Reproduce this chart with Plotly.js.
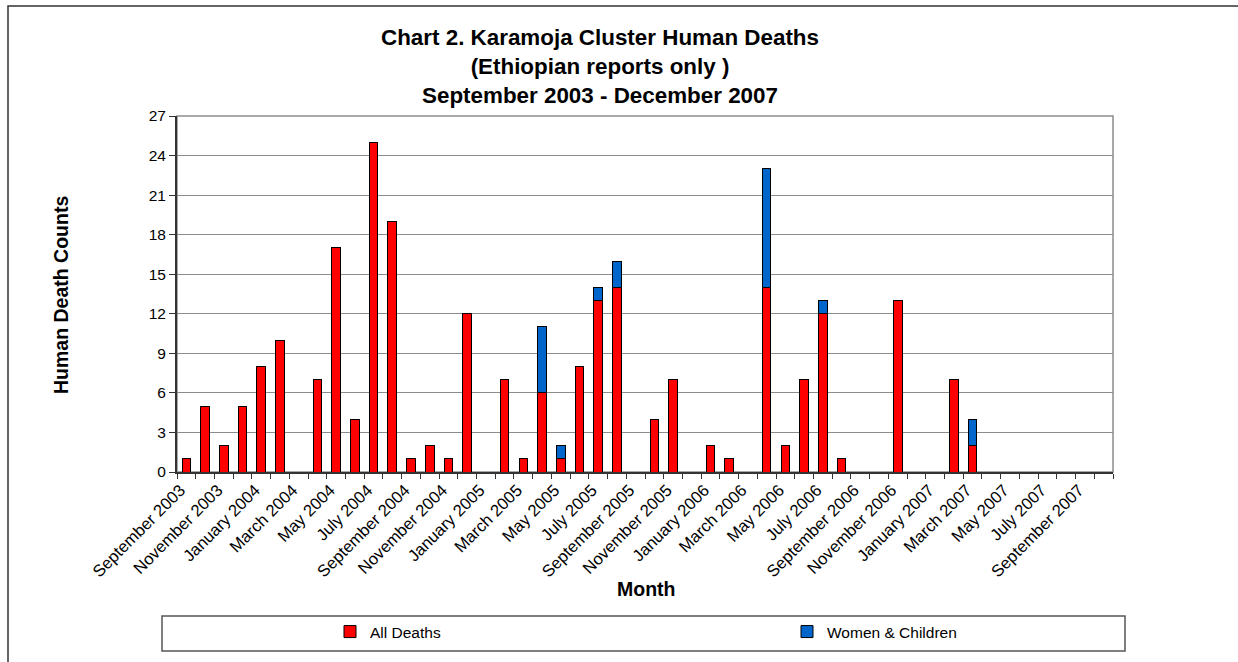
<!DOCTYPE html>
<html>
<head>
<meta charset="utf-8">
<script src="https://cdn.plot.ly/plotly-3.0.1.min.js"></script>
<style>
html,body{margin:0;padding:0;background:#fff;}
#chart{width:1238px;height:662px;}
</style>
</head>
<body>
<div id="chart"></div>
<script>
// ---- Data ----
const months = [
  "September 2003","October 2003","November 2003","December 2003",
  "January 2004","February 2004","March 2004","April 2004","May 2004","June 2004",
  "July 2004","August 2004","September 2004","October 2004","November 2004","December 2004",
  "January 2005","February 2005","March 2005","April 2005","May 2005","June 2005",
  "July 2005","August 2005","September 2005","October 2005","November 2005","December 2005",
  "January 2006","February 2006","March 2006","April 2006","May 2006","June 2006",
  "July 2006","August 2006","September 2006","October 2006","November 2006","December 2006",
  "January 2007","February 2007","March 2007","April 2007","May 2007","June 2007",
  "July 2007","August 2007","September 2007","October 2007"
];
const allDeaths = [
  1,5,2,5,
  8,10,null,7,17,4,
  25,19,1,2,1,12,
  null,7,1,6,1,8,
  13,14,null,4,7,null,
  2,1,null,14,2,7,
  12,1,null,null,13,null,
  null,7,2,null,null,null,
  null,null,null,null
];
const womenChildren = [
  null,null,null,null,
  null,null,null,null,null,null,
  null,null,null,null,null,null,
  null,null,null,5,1,null,
  1,2,null,null,null,null,
  null,null,null,9,null,null,
  1,null,null,null,null,null,
  null,null,2,null,null,null,
  null,null,null,null
];
const tickLabels = ["September 2003","November 2003","January 2004","March 2004","May 2004",
  "July 2004","September 2004","November 2004","January 2005","March 2005","May 2005",
  "July 2005","September 2005","November 2005","January 2006","March 2006","May 2006",
  "July 2006","September 2006","November 2006","January 2007","March 2007","May 2007",
  "July 2007","September 2007"];

// ---- Layout geometry (pixels) ----
const W = 1238, H = 662;
const M = {l: 177, r: 125, t: 116, b: 190};
const PW = W - M.l - M.r, PH = H - M.t - M.b;
const px = x => (x - M.l) / PW;
const py = y => (H - M.b - y) / PH;

const ticktext = months.map(m => tickLabels.includes(m) ? m : "");

const font = "Arial, 'Liberation Sans', sans-serif";

const traces = [
  {type: "bar", name: "All Deaths", x: months, y: allDeaths,
   marker: {color: "#FF0000", line: {color: "#000000", width: 1}}},
  {type: "bar", name: "Women & Children", x: months, y: womenChildren,
   marker: {color: "#0066CC", line: {color: "#000000", width: 1}}}
];

const layout = {
  width: W, height: H,
  margin: M,
  paper_bgcolor: "#ffffff", plot_bgcolor: "#ffffff",
  font: {family: font, color: "#000"},
  barmode: "stack", bargap: 0.54,
  title: {
    text: "Chart 2. Karamoja Cluster Human Deaths<br>(Ethiopian reports only )<br>September 2003 - December 2007",
    font: {family: font, size: 22.4, color: "#000", weight: "bold"},
    xref: "container", x: 600 / W, xanchor: "center",
    yref: "container", y: 1 - 45 / H, yanchor: "top"
  },
  xaxis: {
    type: "category",
    tickmode: "array", tickvals: months, ticktext: ticktext,
    tickangle: -45, tickfont: {size: 16.6, family: font, color: "#000"},
    ticklabelshift: -6,
    ticks: "outside", ticklen: 5, tickcolor: "#333", tickson: "boundaries",
    showline: true, linecolor: "#333", linewidth: 2,
    showgrid: false, zeroline: false,
    range: [-0.5, months.length - 0.5], fixedrange: true
  },
  yaxis: {
    range: [0, 27], dtick: 3, tick0: 0,
    tickfont: {size: 15.5, family: font, color: "#000"},
    ticks: "outside", ticklen: 6, tickcolor: "#333",
    showline: true, linecolor: "#333", linewidth: 2,
    showgrid: true, gridcolor: "#8c8c8c", gridwidth: 1,
    zeroline: false
  },
  showlegend: true,
  legend: {
    orientation: "h", traceorder: "normal",
    xref: "container", yref: "container",
    x: 330 / W, xanchor: "left",
    y: 1 - 632 / H, yanchor: "middle",
    entrywidth: 412, entrywidthmode: "pixels",
    font: {size: 15.5, family: font, color: "#000"},
    bgcolor: "rgba(0,0,0,0)", borderwidth: 0
  },
  annotations: [
    {text: "Human Death Counts", xref: "paper", yref: "paper",
     x: px(61), y: py(295), textangle: -90, showarrow: false,
     font: {size: 19.5, family: font, color: "#000", weight: "bold"},
     xanchor: "center", yanchor: "middle"},
    {text: "Month", xref: "paper", yref: "paper",
     x: px(646), y: py(589), showarrow: false,
     font: {size: 19.5, family: font, color: "#000", weight: "bold"},
     xanchor: "center", yanchor: "middle"}
  ],
  shapes: [
    {type: "rect", xref: "paper", yref: "paper", x0: 0, x1: 1, y0: 0, y1: 1,
     line: {color: "#8c8c8c", width: 1.5}, layer: "below"},
    {type: "rect", xref: "paper", yref: "paper",
     x0: px(162), x1: px(1125), y0: py(651), y1: py(616),
     line: {color: "#555", width: 1.5}, fillcolor: "rgba(0,0,0,0)"},
    {type: "rect", xref: "paper", yref: "paper",
     x0: px(8), x1: px(1245), y0: py(670), y1: py(6),
     line: {color: "#333", width: 1.5}, fillcolor: "rgba(0,0,0,0)"}
  ]
};

Plotly.newPlot("chart", traces, layout, {displayModeBar: false, staticPlot: true});
</script>
</body>
</html>
